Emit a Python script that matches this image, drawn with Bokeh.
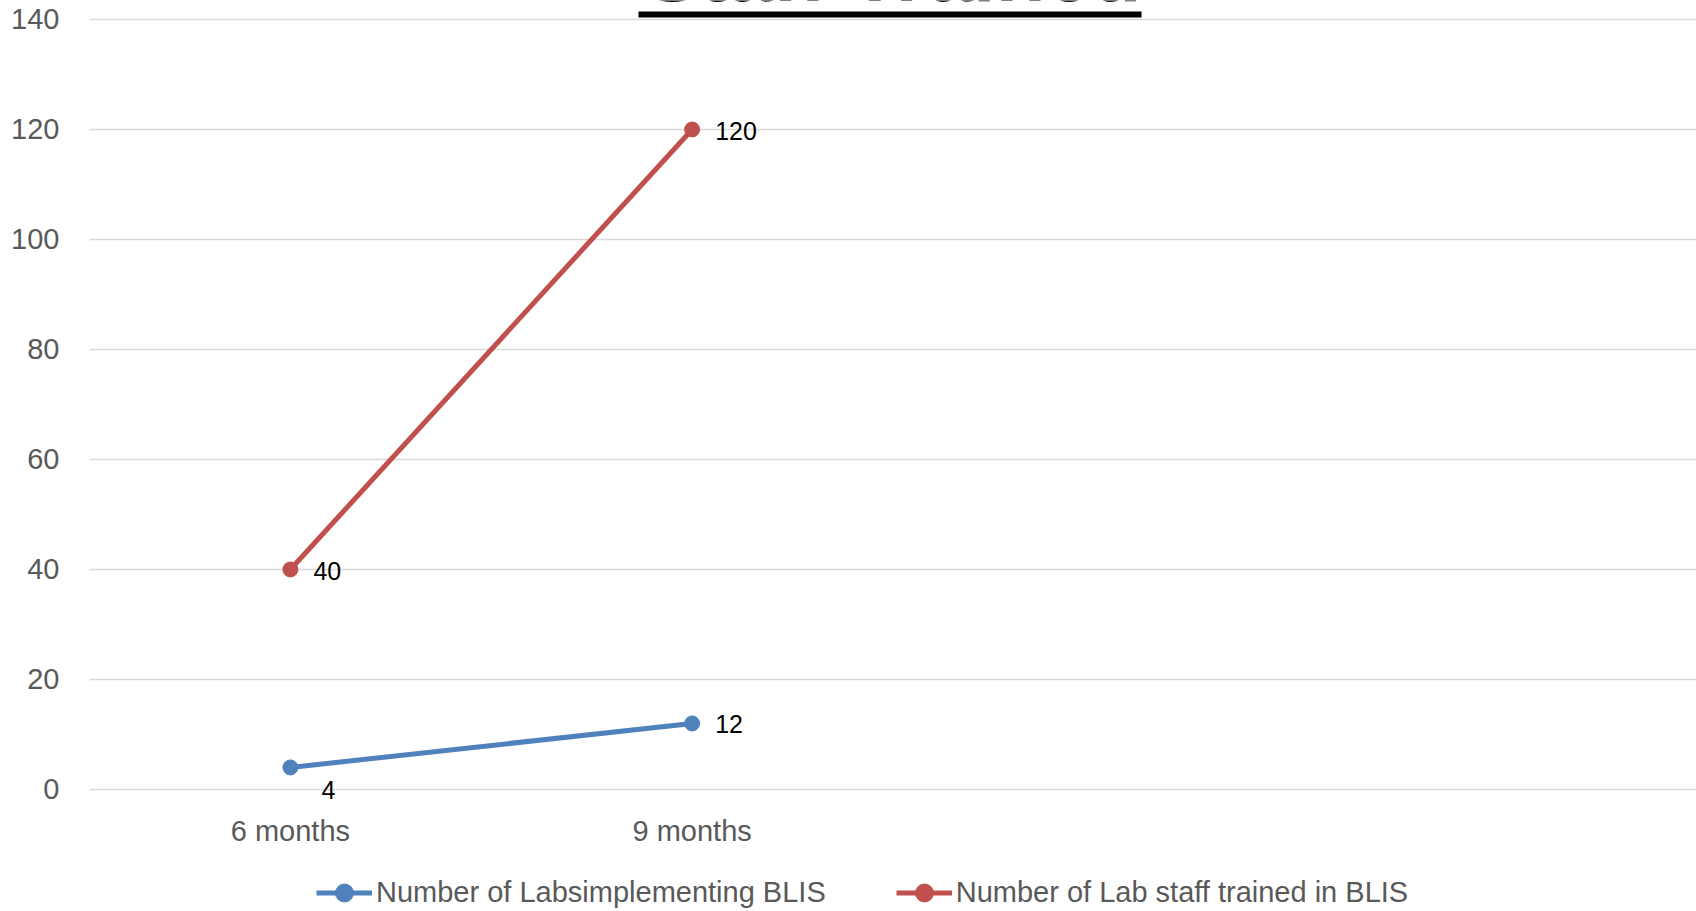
from bokeh.plotting import figure
from bokeh.models import (Range1d, FixedTicker, Legend, LegendItem, BoxAnnotation, Label,
                          LinearAxis)
from bokeh.embed import file_html
from bokeh.resources import INLINE
from bokeh.core.properties import value

# ---- data ----
categories = ["6 months", "9 months"]
labs_implementing = [4, 12]
staff_trained = [40, 120]
series_names = ["Number of Labsimplementing BLIS", "Number of Lab staff trained in BLIS"]
y_ticks = [0, 20, 40, 60, 80, 100, 120, 140]
title_text = "Staff Trained"

xs = [i + 0.5 for i in range(len(categories))]

BLUE = "#4F81BD"
RED = "#C0504D"
FONT = "Liberation Sans"

p = figure(width=1696, height=911, output_backend="svg", toolbar_location=None,
           x_range=Range1d(0, 4), y_range=Range1d(-22.19, 143.45),
           x_axis_location=None,
           min_border_left=89, min_border_right=0, min_border_top=0, min_border_bottom=0)
p.title = None
p.outline_line_color = None
p.background_fill_color = "white"
p.border_fill_color = "white"

# category axis, drawn just under the zero line
xaxis = LinearAxis(fixed_location=-3, ticker=FixedTicker(ticks=xs),
                   major_label_overrides={x: c for x, c in zip(xs, categories)},
                   axis_line_color=None, major_tick_line_color=None,
                   minor_tick_line_color=None, major_label_standoff=3,
                   major_label_text_font=FONT, major_label_text_font_size="29px",
                   major_label_text_color="#595959")
p.add_layout(xaxis, "below")

p.yaxis.ticker = FixedTicker(ticks=y_ticks)
p.yaxis.axis_line_color = None
p.yaxis.major_tick_line_color = None
p.yaxis.minor_tick_line_color = None
p.yaxis.major_label_standoff = 24
p.yaxis.major_label_text_font = FONT
p.yaxis.major_label_text_font_size = "29px"
p.yaxis.major_label_text_color = "#595959"

p.xgrid.grid_line_color = None
p.ygrid.grid_line_color = "#D9D9D9"
p.ygrid.grid_line_width = 1.3

# series
l1 = p.line(xs, labs_implementing, line_color=BLUE, line_width=5)
c1 = p.scatter(xs, labs_implementing, size=15, fill_color=BLUE, line_color=BLUE)
l2 = p.line(xs, staff_trained, line_color=RED, line_width=5)
c2 = p.scatter(xs, staff_trained, size=15, fill_color=RED, line_color=RED)

# data labels
lab_kw = dict(text_font=value(FONT), text_font_size="25px", text_color="black",
              text_baseline="middle")
p.text(xs, staff_trained, text=[str(v) for v in staff_trained],
       x_offset=23, y_offset=2, text_align="left", **lab_kw)
p.text(xs[1:], labs_implementing[1:], text=[str(v) for v in labs_implementing[1:]],
       x_offset=23, y_offset=1, text_align="left", **lab_kw)
p.text(xs[:1], labs_implementing[:1], text=[str(v) for v in labs_implementing[:1]],
       x_offset=38, y_offset=23, text_align="center", **lab_kw)

# clipped title with underline at the very top
p.add_layout(Label(x=2.0, y=148.5, text=title_text, text_align="center",
                   text_baseline="alphabetic", text_font=FONT, text_font_size="82px",
                   text_font_style="bold", text_color="black"))
p.add_layout(BoxAnnotation(left=1.3665, right=2.6185, bottom=140.36, top=141.45,
                           fill_color="black", fill_alpha=1, line_color=None))

legend = Legend(items=[LegendItem(label=series_names[0], renderers=[l1, c1]),
                       LegendItem(label=series_names[1], renderers=[l2, c2])],
                orientation="horizontal", location=(227, -4),
                padding=0, margin=0, spacing=70, label_standoff=4,
                glyph_width=56, glyph_height=45, label_height=30,
                label_text_font=FONT, label_text_font_size="29px",
                label_text_color="#595959",
                border_line_color=None, background_fill_alpha=0)
p.add_layout(legend, "center")

open("out.html", "w").write(file_html(p, INLINE))
